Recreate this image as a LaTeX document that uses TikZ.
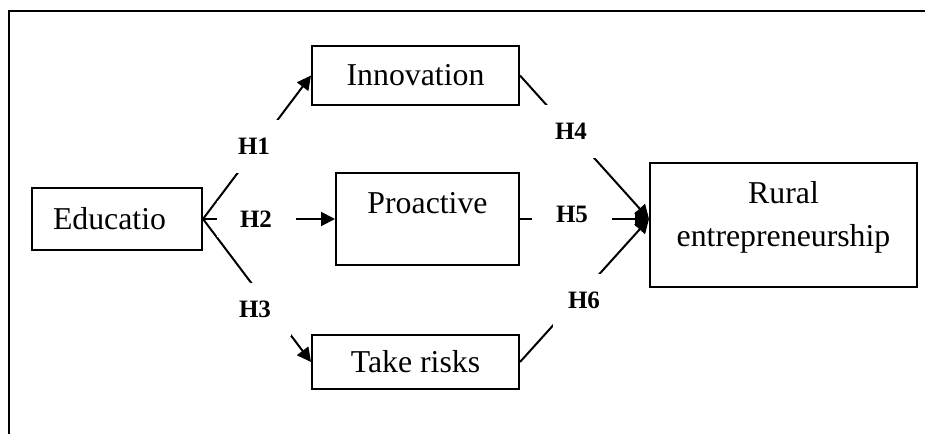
\documentclass[tikz,border=0pt]{standalone}
\usepackage{fontspec}
\setmainfont{Liberation Serif}
\usetikzlibrary{arrows.meta}
\begin{document}
\begin{tikzpicture}[x=0.5pt,y=-0.5pt,
  box/.style={draw,line width=1pt,inner sep=0pt,font=\fontsize{15.9}{21.5}\selectfont},
  hyp/.style={fill=white,inner sep=0pt,font=\fontsize{12.5}{15}\selectfont\bfseries},
  arr/.style={line width=1pt,-{Triangle[length=7pt,width=7pt]}}]
\useasboundingbox (0,0) rectangle (925,434);
% open frame: left and top edges
\draw[line width=1pt] (9,434) -- (9,11) -- (925,11);

% constructs
\node[box, minimum width=85pt, minimum height=31pt, text width=64pt, align=left, inner xsep=10.5pt] (edu) at (117,219) {Educatio};
\node[box, minimum width=103.5pt, minimum height=29.5pt] (inn) at (415.5,75.5) {Innovation};
\node[box, minimum width=91.5pt, minimum height=46pt] (pro) at (427.5,219) {Proactive\rule[-16.5pt]{0pt}{1pt}};
\node[box, minimum width=103.5pt, minimum height=27pt] (risk) at (415.5,362) {Take risks};
\node[box, minimum width=133.5pt, minimum height=62pt, align=center] (rural) at (783.5,225) {Rural\\entrepreneurship\rule[-11pt]{0pt}{1pt}};
\coordinate (hub) at ([yshift=3pt]rural.west);

% hypothesised paths
\draw[arr] (edu.east) -- (inn.west);
\draw[arr] (edu.east) -- (pro.west);
\draw[arr] (edu.east) -- (risk.west);
\draw[arr] (inn.east) -- (hub);
\draw[arr] (pro.east) -- (hub);
\draw[arr] (risk.east) -- (hub);

% hypothesis labels, each on a white patch that breaks its path
\node[hyp, minimum width=26pt, minimum height=26.5pt] (h1) at (254,146.5) {H1};
\node[hyp, minimum width=39.5pt, minimum height=18pt] (h2) at (256,219) {H2};
\node[hyp, minimum width=36pt, minimum height=26.5pt] (h3) at (255,309.5) {H3};
\node[hyp, minimum width=26pt, minimum height=26.5pt] (h4) at (571,131) {H4};
\node[hyp, minimum width=40pt, minimum height=18pt] (h5) at (572,214.5) {H5};
\node[hyp, minimum width=31pt, minimum height=26.5pt] (h6) at (584,300.5) {H6};
\end{tikzpicture}
\end{document}
